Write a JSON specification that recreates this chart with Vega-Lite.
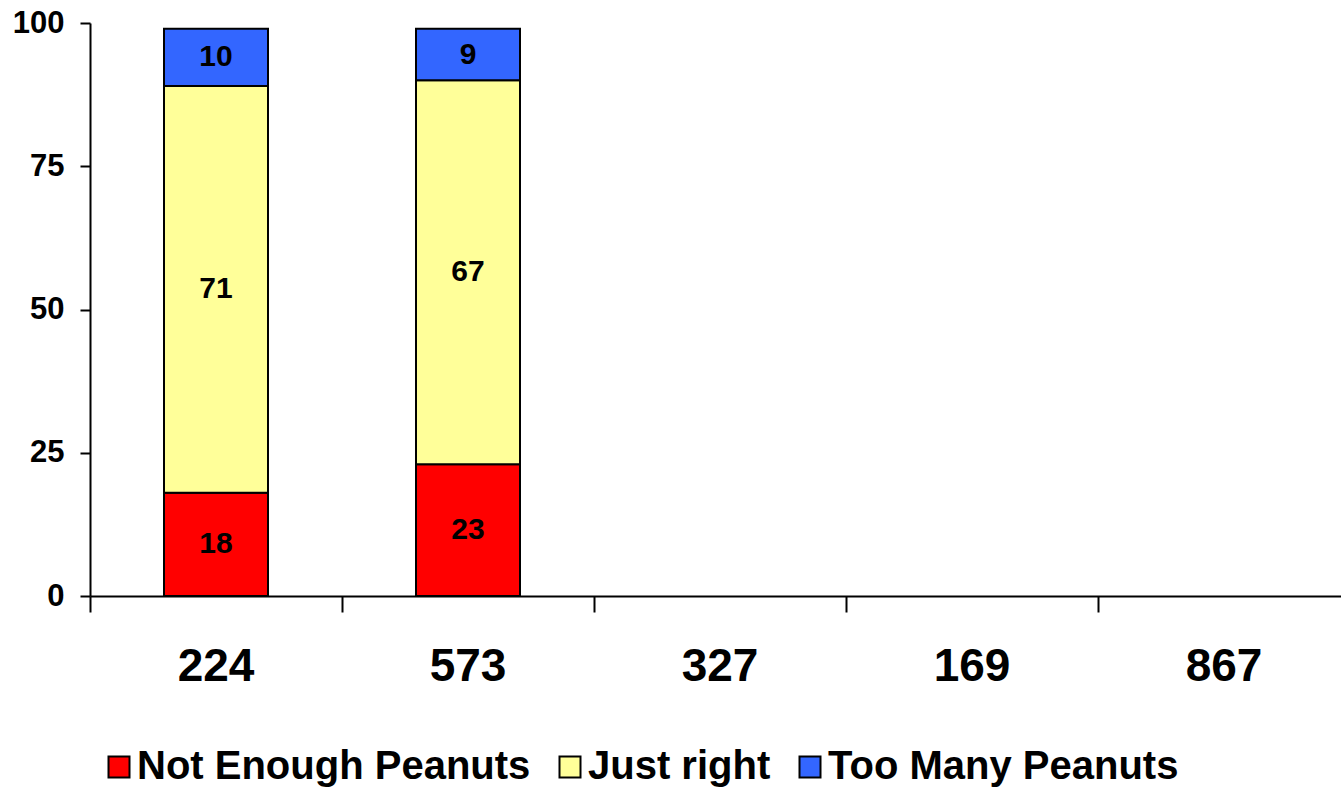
{
  "$schema": "https://vega.github.io/schema/vega-lite/v6.json",
  "width": 1251,
  "height": 573,
  "autosize": {"type": "none"},
  "padding": {"left": 90, "top": 23, "right": 0, "bottom": 194},
  "background": "white",
  "config": {
    "view": {"stroke": null},
    "font": "Liberation Sans"
  },
  "data": {
    "values": [
      {"product": "224", "resp": "Not Enough Peanuts", "value": 18},
      {"product": "224", "resp": "Just right", "value": 71},
      {"product": "224", "resp": "Too Many Peanuts", "value": 10},
      {"product": "573", "resp": "Not Enough Peanuts", "value": 23},
      {"product": "573", "resp": "Just right", "value": 67},
      {"product": "573", "resp": "Too Many Peanuts", "value": 9}
    ]
  },
  "transform": [
    {"calculate": "indexof(['Not Enough Peanuts','Just right','Too Many Peanuts'], datum.resp)", "as": "ord"},
    {"stack": "value", "groupby": ["product"], "sort": [{"field": "ord", "order": "ascending"}], "as": ["v0", "v1"]},
    {"calculate": "(datum.v0 + datum.v1) / 2", "as": "mid"}
  ],
  "encoding": {
    "x": {
      "field": "product",
      "type": "nominal",
      "scale": {"domain": ["224", "573", "327", "169", "867"], "range": [0, 1260], "paddingInner": 0, "paddingOuter": 0},
      "axis": {
        "title": null,
        "labelAngle": 0,
        "bandPosition": 0,
        "labelFont": "Liberation Sans",
        "labelFontWeight": "bold",
        "labelFontSize": 46,
        "labelColor": "black",
        "labelPadding": 32,
        "tickSize": 16,
        "tickWidth": 2,
        "tickColor": "black",
        "domainColor": "black",
        "domainWidth": 2,
        "grid": false
      }
    }
  },
  "layer": [
    {
      "mark": {"type": "bar", "size": 104, "stroke": "black", "strokeWidth": 2},
      "encoding": {
        "y": {
          "field": "v0",
          "type": "quantitative",
          "scale": {"domain": [0, 100], "nice": false},
          "axis": {
            "title": null,
            "values": [0, 25, 50, 75, 100],
            "labelFont": "Liberation Sans",
            "labelFontWeight": "bold",
            "labelFontSize": 31,
            "labelColor": "black",
            "labelPadding": 16,
            "tickSize": 10,
            "tickWidth": 2,
            "tickColor": "black",
            "domainColor": "black",
            "domainWidth": 2,
            "grid": false
          }
        },
        "y2": {"field": "v1"},
        "color": {
          "field": "resp",
          "type": "nominal",
          "scale": {
            "domain": ["Not Enough Peanuts", "Just right", "Too Many Peanuts"],
            "range": ["#FF0000", "#FFFF99", "#3366FF"]
          },
          "legend": {
            "title": null,
            "orient": "none",
            "direction": "horizontal",
            "legendX": 9,
            "legendY": 724,
            "symbolType": "square",
            "symbolSize": 441,
            "symbolStrokeColor": "black",
            "symbolStrokeWidth": 2,
            "symbolOpacity": 1,
            "labelFont": "Liberation Sans",
            "labelFontWeight": "bold",
            "labelFontSize": 40,
            "labelColor": "black",
            "labelOffset": -2,
            "labelLimit": 0,
            "columnPadding": 19
          }
        }
      }
    },
    {
      "mark": {"type": "text", "font": "Liberation Sans", "fontWeight": "bold", "fontSize": 30, "color": "black", "baseline": "middle", "align": "center"},
      "encoding": {
        "y": {"field": "mid", "type": "quantitative"},
        "text": {"field": "value", "type": "quantitative"}
      }
    }
  ]
}
